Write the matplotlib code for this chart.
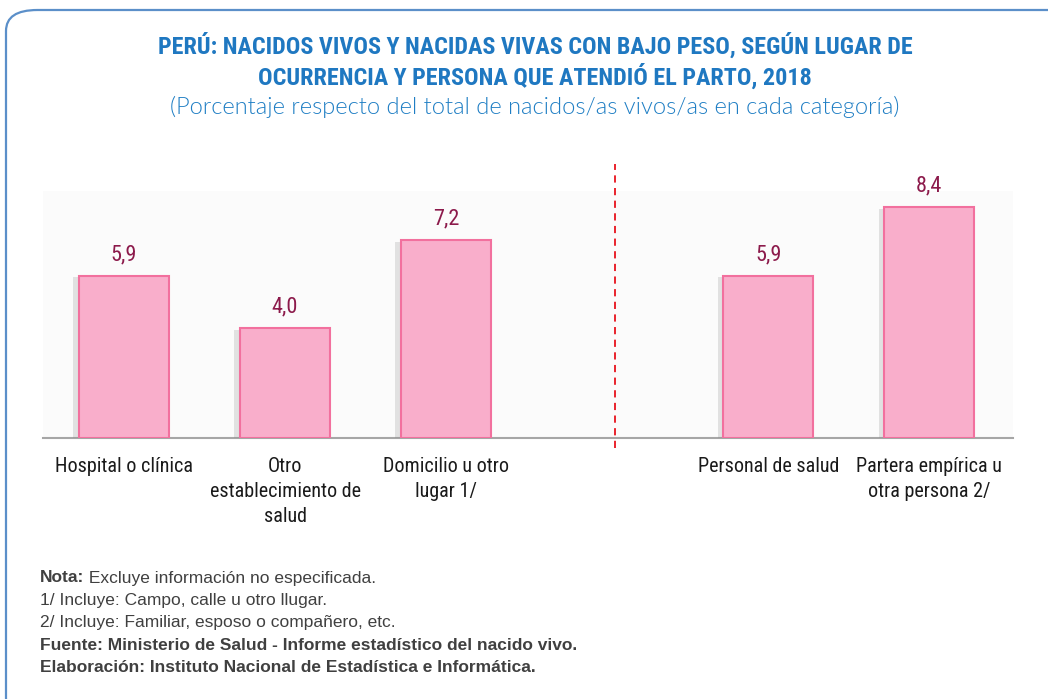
import matplotlib.pyplot as plt
import matplotlib.patheffects as pe
from matplotlib.patches import FancyBboxPatch

# data
categories = ['Hospital o clínica', 'Otro\nestablecimiento de\nsalud', 'Domicilio u otro\nlugar 1/',
              'Personal de salud', 'Partera empírica u\notra persona 2/']
values = [5.9, 4.0, 7.2, 5.9, 8.4]
positions = [0, 1, 2, 4, 5]
divider_pos = 3.05

title = 'PERÚ: NACIDOS VIVOS Y NACIDAS VIVAS CON BAJO PESO, SEGÚN LUGAR DE\nOCURRENCIA Y PERSONA QUE ATENDIÓ EL PARTO, 2018'
subtitle = '(Porcentaje respecto del total de nacidos/as vivos/as en cada categoría)'
notes = [
    ('Nota:', ' Excluye información no especificada.'),
    ('', '1/ Incluye: Campo, calle u otro llugar.'),
    ('', '2/ Incluye: Familiar, esposo o compañero, etc.'),
    ('Fuente: Ministerio de Salud - Informe estadístico del nacido vivo.', ''),
    ('Elaboración: Instituto Nacional de Estadística e Informática.', ''),
]

narrow = ['Roboto Condensed', 'DejaVu Sans']
arial = ['Liberation Sans', 'DejaVu Sans']
plt.rcParams['font.family'] = narrow

W, H = 1048, 699
fig = plt.figure(figsize=(W / 100, H / 100), dpi=100)

# rounded frame
frame = FancyBboxPatch((6 / W, -20 / H), 1100 / W, (H - 10 + 20) / H,
                       boxstyle='round,pad=0,rounding_size=0.03',
                       transform=fig.transFigure, facecolor='white',
                       edgecolor='#5b8fc9', linewidth=1.6, zorder=-5)
fig.patches.append(frame)

ax = fig.add_axes([43 / W, (H - 438) / H, (1013 - 43) / W, (438 - 191) / H])
ax.set_zorder(2)
ax.set_facecolor('#fbfbfb')
bars = ax.bar(positions, values, width=0.56, color='#f9aecb', edgecolor='#f2709e',
              linewidth=1.5, zorder=3)
for b in bars:
    b.set_path_effects([pe.SimplePatchShadow(offset=(-4, -1), shadow_rgbFace='#888888', alpha=0.22),
                        pe.Normal()])
for p, v in zip(positions, values):
    ax.annotate(f'{v:.1f}'.replace('.', ','), (p, v), xytext=(0, 8), textcoords='offset points',
                ha='center', va='bottom', fontsize=16, color='#8c1a4b')

ax.set_xlim(-0.503, 5.52)
ax.set_ylim(0, 9)
ax.set_yticks([])
ax.set_xticks(positions)
ax.set_xticklabels(categories, fontsize=14.5, color='#1a1a1a', linespacing=1.4)
ax.tick_params(axis='x', length=0, pad=14)
for s in ['top', 'right', 'left']:
    ax.spines[s].set_visible(False)
ax.spines['bottom'].set_color('#a6a6a6')
ax.spines['bottom'].set_linewidth(1.5)

ax.plot([divider_pos, divider_pos], [-0.36, 10.0], color='#e8121c', linestyle=(0, (4, 3)),
        linewidth=1.3, clip_on=False, zorder=4)

# titles
fig.text(535 / W, 1 - 61 / H, title, ha='center', va='center', fontsize=17.4,
         fontweight='bold', color='#1f78c1', linespacing=1.2)
fig.text(535 / W, 1 - 107 / H, subtitle, ha='center', va='center', fontsize=17,
         color='#1f7ec4', family=['Lato', 'DejaVu Sans'], fontweight=300)

# notes
y0 = 578
for i, (bold, rest) in enumerate(notes):
    y = 1 - (y0 + i * 22.5) / H
    t = fig.text(40 / W, y, bold, ha='left', va='center', fontsize=12.5,
                 fontweight='bold', color='#404040', family=arial)
    if rest:
        if bold:
            fig.canvas.draw()
            bb = t.get_window_extent()
            x = bb.x1 / W
        else:
            x = 40 / W
        fig.text(x, y, rest, ha='left', va='center', fontsize=12.5,
                 color='#404040', family=arial)

fig.savefig('out.png', dpi=100)
